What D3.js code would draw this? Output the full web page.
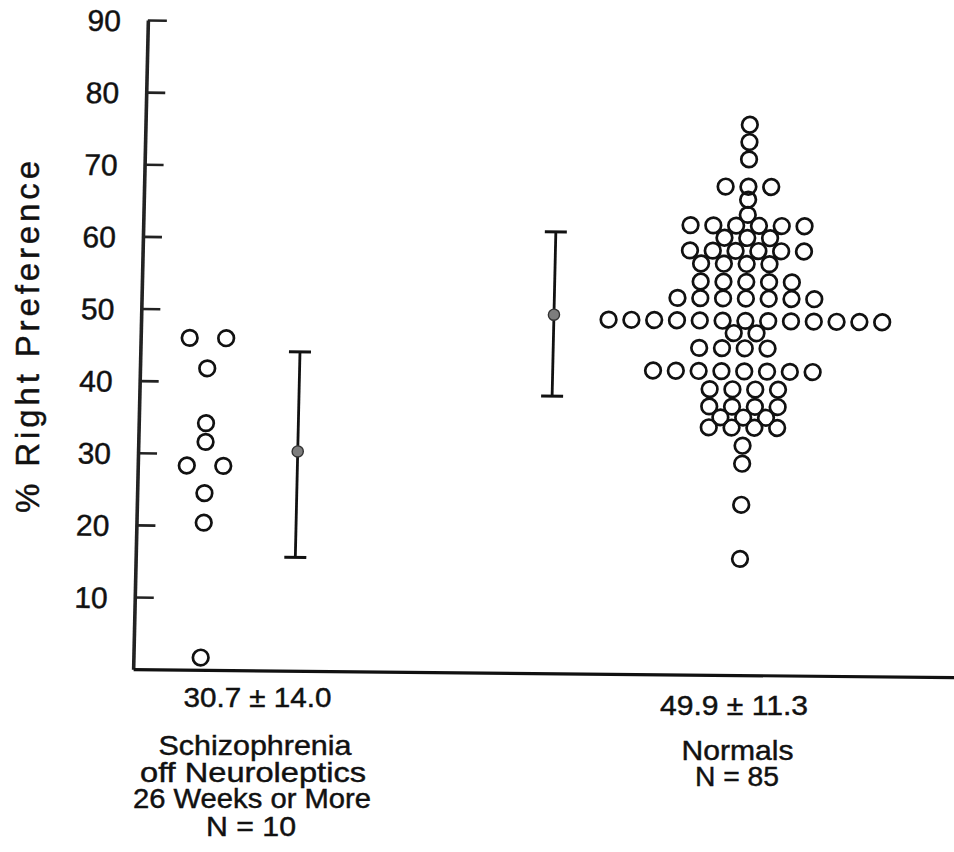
<!DOCTYPE html>
<html lang="en">
<head>
<meta charset="utf-8">
<title>% Right Preference</title>
<script src="https://d3js.org/d3.v7.min.js"></script>
<style>
  body { margin: 0; background: #fff; }
  svg { display: block; }
  text { font-family: "Liberation Sans", Arial, Helvetica, sans-serif; fill: #111; stroke: #111; stroke-width: 0.45px; }
</style>
</head>
<body>
<script>
// values
var yTicks = [10, 20, 30, 40, 50, 60, 70, 80, 90];

// schizophrenia group: one value per circle, slot = sideways offset in circle widths
var schizValues = [46.0, 46.0, 41.8, 34.2, 31.6, 28.3, 28.3, 24.5, 20.4, 1.7];
var schizSlots  = [-0.8, 0.8, 0, 0, 0, -0.8, 0.8, 0, 0, 0];

// normals: one value per row, slots of each circle in that row
var normalRowValues = [76.3, 73.9, 71.5, 67.7, 65.9, 63.8, 62.3, 60.6, 58.8, 57.0, 54.5, 52.2,
                       49.1, 47.4, 45.3, 42.1, 39.6, 37.2, 35.7, 34.3, 31.8, 29.3, 23.6, 16.1];
var normalRowSlots = [
  [0], [0], [0],
  [-1, 0, 1],
  [0], [0],
  [-2.5, -1.5, -0.5, 0.5, 1.5, 2.5],
  [-1, 0, 1],
  [-2.5, -1.5, -0.5, 0.5, 1.5, 2.5],
  [-2, -1, 0, 1],
  [-2, -1, 0, 1, 2],
  [-3, -2, -1, 0, 1, 2, 3],
  [-6, -5, -4, -3, -2, -1, 0, 1, 2, 3, 4, 5, 6],
  [-0.5, 0.5],
  [-2, -1, 0, 1],
  [-4, -3, -2, -1, 0, 1, 2, 3],
  [-1.5, -0.5, 0.5, 1.5],
  [-1.5, -0.5, 0.5, 1.5],
  [-1, 0, 1],
  [-1.5, -0.5, 0.5, 1.5],
  [0], [0], [0], [0]
];

// mean bars (as drawn)
var errMean = [30.4, 49.7];
var errLow  = [15.7, 38.4];
var errHigh = [44.2, 61.2];

var statLabels = ["30.7 \u00b1 14.0", "49.9 \u00b1 11.3"];
var groupLabels = [
  ["Schizophrenia", "off Neuroleptics", "26 Weeks or More", "N = 10"],
  ["Normals", "N = 85"]
];

// layout
var W = 954, H = 852;
var unit = 22.8;                 // circle spacing in px
var groupCenter = [2.95, 26.5];  // in circle units from the y axis
var barCenter = [7.0, 18.1];

var svg = d3.select("body").append("svg")
  .attr("width", W)
  .attr("height", H);

// the scanned figure is slightly sheared; reproduce that
var plot = svg.append("g")
  .attr("transform", "matrix(1,0.00974,-0.0227,1,0,0)");

var y = d3.scaleLinear().domain([0, 90]).range([667.7, 18.6]);
var x = d3.scaleLinear().domain([0, 36]).range([148.3, 148.3 + 36 * unit]);

// y axis
var yAxis = plot.append("g")
  .attr("transform", "translate(" + x(0) + ",0)")
  .call(d3.axisLeft(y)
    .tickValues(yTicks)
    .tickSizeInner(-19)
    .tickSizeOuter(0)
    .tickPadding(27)
    .tickFormat(d3.format("d")));
yAxis.select(".domain").attr("stroke", "#222").attr("stroke-width", 3.6);
yAxis.selectAll(".tick line").attr("stroke", "#222").attr("stroke-width", 2.6);
yAxis.selectAll(".tick text")
  .attr("font-size", "30px")
  .attr("dy", "0.36em");

// x axis baseline
var xAxis = plot.append("g")
  .attr("transform", "translate(0," + y(0) + ")")
  .call(d3.axisBottom(x).tickValues([]).tickSizeOuter(0));
xAxis.select(".domain").attr("stroke", "#111").attr("stroke-width", 3.2);

// circles
var dots = [];
schizValues.forEach(function(v, i) {
  dots.push({ v: v, u: groupCenter[0] + schizSlots[i] });
});
normalRowValues.forEach(function(v, r) {
  normalRowSlots[r].forEach(function(s) {
    dots.push({ v: v, u: groupCenter[1] + s });
  });
});

plot.selectAll("circle.pt")
  .data(dots)
  .enter()
  .append("circle")
  .attr("class", "pt")
  .attr("cx", function(d) { return x(d.u); })
  .attr("cy", function(d) { return y(d.v); })
  .attr("r", 7.8)
  .attr("fill", "none")
  .attr("stroke", "#111")
  .attr("stroke-width", 2.7);

// mean bars
var bars = plot.selectAll("g.bar")
  .data(errMean)
  .enter()
  .append("g")
  .attr("class", "bar");

bars.append("line")
  .attr("x1", function(d, i) { return x(barCenter[i]); })
  .attr("x2", function(d, i) { return x(barCenter[i]); })
  .attr("y1", function(d, i) { return y(errHigh[i]); })
  .attr("y2", function(d, i) { return y(errLow[i]); })
  .attr("stroke", "#111")
  .attr("stroke-width", 2.8);

[errHigh, errLow].forEach(function(arr) {
  bars.append("line")
    .attr("x1", function(d, i) { return x(barCenter[i]) - 11; })
    .attr("x2", function(d, i) { return x(barCenter[i]) + 11; })
    .attr("y1", function(d, i) { return y(arr[i]); })
    .attr("y2", function(d, i) { return y(arr[i]); })
    .attr("stroke", "#111")
    .attr("stroke-width", 3);
});

bars.append("circle")
  .attr("cx", function(d, i) { return x(barCenter[i]); })
  .attr("cy", function(d) { return y(d); })
  .attr("r", 5.6)
  .attr("fill", "#7d7d7d")
  .attr("stroke", "#333")
  .attr("stroke-width", 1.4);

// y axis title
svg.append("text")
  .attr("transform", "translate(39,337) rotate(-90)")
  .attr("text-anchor", "middle")
  .attr("font-size", "33px")
  .attr("textLength", 352)
  .attr("lengthAdjust", "spacing")
  .text("% Right Preference");

// labels under the axis
var statPos = [
  { x: 257.5, y: 707, w: 148 },
  { x: 734, y: 715, w: 148 }
];
svg.selectAll("text.stat")
  .data(statLabels)
  .enter()
  .append("text")
  .attr("class", "stat")
  .attr("x", function(d, i) { return statPos[i].x; })
  .attr("y", function(d, i) { return statPos[i].y; })
  .attr("text-anchor", "middle")
  .attr("font-size", "27px")
  .attr("textLength", function(d, i) { return statPos[i].w; })
  .attr("lengthAdjust", "spacingAndGlyphs")
  .text(function(d) { return d; });

var linePos = [
  [{ x: 255, y: 755, w: 193 }, { x: 253, y: 782, w: 226 }, { x: 252, y: 808, w: 238 }, { x: 251, y: 836, w: 90 }],
  [{ x: 737.5, y: 760, w: 112 }, { x: 737, y: 786, w: 84 }]
];
groupLabels.forEach(function(lines, g) {
  svg.selectAll("text.g" + g)
    .data(lines)
    .enter()
    .append("text")
    .attr("class", "g" + g)
    .attr("x", function(d, i) { return linePos[g][i].x; })
    .attr("y", function(d, i) { return linePos[g][i].y; })
    .attr("text-anchor", "middle")
    .attr("font-size", "28px")
    .attr("textLength", function(d, i) { return linePos[g][i].w; })
    .attr("lengthAdjust", "spacingAndGlyphs")
    .text(function(d) { return d; });
});
</script>
</body>
</html>
